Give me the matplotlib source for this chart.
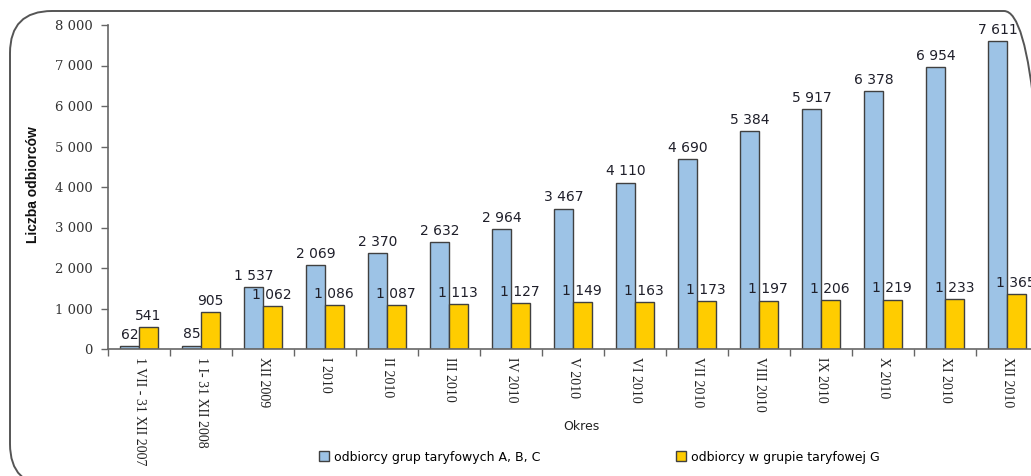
import matplotlib
matplotlib.use("Agg")
import matplotlib.pyplot as plt
from matplotlib.patches import FancyBboxPatch
from matplotlib.ticker import FixedLocator, FuncFormatter
import numpy as np

# Data
categories = ["1 VII - 31 XII 2007", "1 I- 31 XII 2008", "XII 2009", "I 2010", "II 2010",
              "III 2010", "IV 2010", "V 2010", "VI 2010", "VII 2010", "VIII 2010",
              "IX 2010", "X 2010", "XI 2010", "XII 2010"]
abc_values = [62, 85, 1537, 2069, 2370, 2632, 2964, 3467, 4110, 4690, 5384, 5917, 6378, 6954, 7611]
g_values = [541, 905, 1062, 1086, 1087, 1113, 1127, 1149, 1163, 1173, 1197, 1206, 1219, 1233, 1365]
series_names = ["odbiorcy grup taryfowych A, B, C", "odbiorcy w grupie taryfowej G"]
y_ticks = [0, 1000, 2000, 3000, 4000, 5000, 6000, 7000, 8000]

W, H = 1031, 476
fig = plt.figure(figsize=(W / 100, H / 100), dpi=100)
fig.patch.set_facecolor("white")

def fx(px):
    return px / W

def fy(py):
    return 1 - py / H

# Rounded outer frame, laid out in inches (100 px per inch)
left_px, top_px, right_px, bottom_px = 10, 11, 1046, 486
frame = FancyBboxPatch((left_px / 100, (H - bottom_px) / 100),
                       (right_px - left_px) / 100, (bottom_px - top_px) / 100,
                       boxstyle="round,pad=0,rounding_size=0.42",
                       transform=fig.dpi_scale_trans, fill=False,
                       edgecolor="#555555", linewidth=1.4, clip_on=False)
fig.patches.append(frame)

ax = fig.add_axes([fx(108), fy(349), fx(1038) - fx(108), fy(25) - fy(349)])
ax.set_facecolor("none")

def fmt(v):
    return f"{v:,}".replace(",", " ")

x = np.arange(len(categories))
w = 0.3
blue = "#9DC3E6"
yellow = "#FFCC00"
edge = "#404040"

b1 = ax.bar(x - w / 2, abc_values, w, color=blue, edgecolor=edge, linewidth=1.0,
            label=series_names[0], zorder=2)
b2 = ax.bar(x + w / 2, g_values, w, color=yellow, edgecolor=edge, linewidth=1.0,
            label=series_names[1], zorder=2)

lab_kw = dict(fontsize=10, color="#1f1f2a", family="DejaVu Sans")
ax.bar_label(b1, labels=[fmt(v) for v in abc_values], padding=3, **lab_kw)
ax.bar_label(b2, labels=[fmt(v) for v in g_values], padding=3, **lab_kw)

ax.set_xlim(-0.5, len(categories) - 0.5)
ax.set_ylim(0, 8000)

ax.set_yticks(y_ticks)
ax.yaxis.set_major_formatter(FuncFormatter(lambda v, p: fmt(int(v))))
for t in ax.get_yticklabels():
    t.set_fontfamily("DejaVu Serif")
    t.set_fontsize(9.5)
    t.set_color("#333333")
ax.tick_params(axis="y", direction="out", length=5, width=1, color="#666666", pad=6)

# Category boundary ticks and centred labels
ax.xaxis.set_major_locator(FixedLocator(np.arange(-0.5, len(categories) + 0.5, 1.0)))
ax.xaxis.set_major_formatter(FuncFormatter(lambda v, p: ""))
ax.xaxis.set_minor_locator(FixedLocator(x))
ax.set_xticklabels(categories, minor=True, rotation=-90, fontfamily="Liberation Serif",
                   fontsize=10, color="#222222", va="top", ha="center")
ax.tick_params(axis="x", which="major", direction="out", length=5, width=1, color="#666666")
ax.tick_params(axis="x", which="minor", length=0, pad=6)

for s in ["top", "right"]:
    ax.spines[s].set_visible(False)
for s in ["left", "bottom"]:
    ax.spines[s].set_color("#666666")
    ax.spines[s].set_linewidth(1.2)

fig.text(fx(33), fy(185), "Liczba odbiorców", rotation=90, ha="center", va="center",
         fontsize=10, fontweight="bold", family="Liberation Sans", color="#111111")
fig.text(fx(581), fy(427), "Okres", ha="center", va="center", fontsize=9,
         family="DejaVu Sans", color="#222222")

fig.legend(handles=[b1, b2], labels=series_names, loc="center left",
           bbox_to_anchor=(fx(308), fy(457)), ncol=2, frameon=False,
           prop={"family": "DejaVu Sans", "size": 9}, handlelength=0.8,
           handleheight=0.8, handletextpad=0.4, columnspacing=10.8)

fig.savefig("out.png", dpi=100, facecolor="white")
